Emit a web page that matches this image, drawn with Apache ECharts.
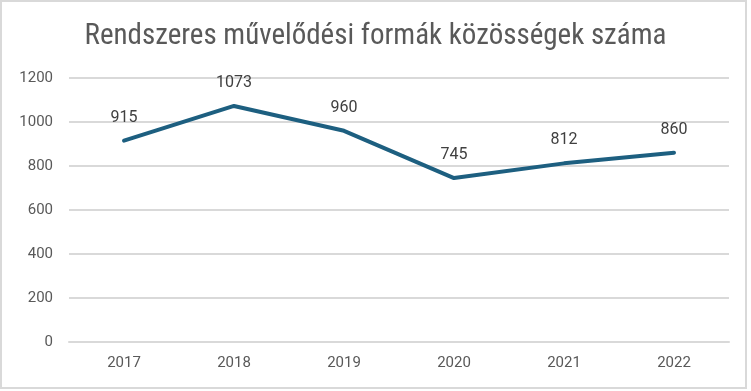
<!DOCTYPE html>
<html><head><meta charset="utf-8">
<script src="https://cdn.jsdelivr.net/npm/echarts@6/dist/echarts.min.js"></script>
<style>html,body{margin:0;padding:0;background:#fff}#c{width:751px;height:391px}</style>
</head><body><div id="c"></div>
<script>
const titleText = "Rendszeres művelődési formák közösségek száma";
const categories = ["2017","2018","2019","2020","2021","2022"];
const values = [915, 1073, 960, 745, 812, 860];
const yTicks = [0, 200, 400, 600, 800, 1000, 1200];

const chart = echarts.init(document.getElementById('c'), null, {renderer:'canvas'});
chart.setOption({
  backgroundColor: '#fff',
  animation: false,
  title: {
    text: titleText, left: 'center', top: 17,
    textStyle: {fontFamily: '"Liberation Sans Narrow", "Roboto Condensed", sans-serif', fontSize: 29, fontWeight: 'normal', color: '#595959'}
  },
  graphic: [{type:'rect', shape:{x:1, y:1, width:745, height:387}, style:{fill:'none', stroke:'#d9d9d9', lineWidth:2}, silent:true}],
  grid: {left: 69, right: 22, top: 78, bottom: 49, containLabel: false},
  xAxis: {
    type: 'category', data: categories, boundaryGap: true,
    axisLine: {show: true, lineStyle: {color: '#d9d9d9', width: 2}},
    axisTick: {show: false},
    axisLabel: {color: '#595959', fontSize: 15, fontFamily: 'Roboto, sans-serif', margin: 14}
  },
  yAxis: {
    type: 'value', min: yTicks[0], max: yTicks[yTicks.length-1], interval: 200,
    axisLine: {show: false}, axisTick: {show: false},
    axisLabel: {color: '#595959', fontSize: 15, fontFamily: 'Roboto, sans-serif', margin: 16, formatter: v => String(v)},
    splitLine: {lineStyle: {color: '#d9d9d9', width: 2}}
  },
  series: [{
    type: 'line', data: values, symbol: 'circle', symbolSize: 2, showSymbol: true,
    itemStyle: {color: '#1d5f80'},
    lineStyle: {color: '#1d5f80', width: 4, cap: 'round', join: 'round'},
    label: {show: true, position: 'top', distance: 14, color: '#404040', fontSize: 16, fontFamily: 'Roboto, sans-serif'}
  }]
});
</script></body></html>
